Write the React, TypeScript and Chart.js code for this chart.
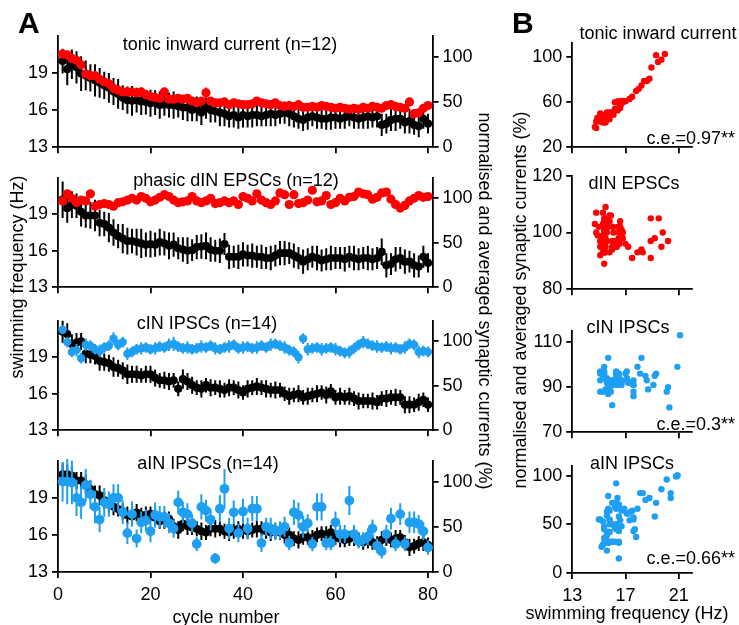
import React, { useEffect, useRef } from 'react';
import { Chart, registerables } from 'chart.js';
Chart.register(...registerables);

const FONT = '"Liberation Sans", Arial, sans-serif';
const RED = '#ff0000';
const BLUE = '#1e9ff2';

// cycle numbers (categories)
const cycles: number[] = Array.from({ length: 80 }, (_, i) => i + 1);

// tonic inward current panel
const freqTonic = [19.96,19.3,19.7,19.45,18.95,18.8,18.6,18.4,18.2,18.0, 17.8,17.5,17.3,17.0,16.8,16.75,16.8,16.7,16.65,16.55, 16.6,16.4,16.45,16.4,16.4,16.3,16.2,16.2,16.0,16.1, 15.8,16.2,16.0,15.9,15.8,15.7,15.5,15.6,15.4,15.6, 15.5,15.6,15.6,15.5,15.6,15.7,15.6,15.7,15.8,15.7, 15.5,15.3,15.2,15.4,15.5,15.4,15.3,15.3,15.4,15.4, 15.3,15.4,15.5,15.4,15.3,15.4,15.5,15.4,15.5,14.8, 14.9,15.2,15.3,15.3,15.0,15.1,14.8,14.7,15.3,14.9];
const freqTonicErr = [1.0,1.3,1.2,1.3,1.4,1.2,1.1,1.3,1.2,1.1, 1.2,1.1,1.2,1.0,1.1,1.2,1.0,1.1,1.0,1.1, 1.0,1.1,0.9,1.0,1.1,0.9,1.0,1.1,0.9,1.0, 1.0,0.9,1.0,0.9,1.1,1.0,0.9,1.0,0.9,1.0, 0.9,1.0,0.9,0.8,0.9,1.0,0.9,0.8,0.9,1.0, 0.9,0.8,0.9,1.0,0.8,0.9,0.8,0.9,1.0,0.9, 0.8,0.9,0.8,0.9,0.8,0.9,1.0,0.8,0.9,0.9, 0.8,0.9,1.0,0.8,0.9,1.0,0.8,0.9,0.8,0.8];
const curTonic = [103,102,98,96,91,81,79,79,75,72, 70,65,63,61,61,61,60,61,58,56, 55,54,61,53,53,54,53,54,51,49, 51,60,51,49,49,50,47,49,48,47, 47,48,51,49,48,47,49,46,45,46, 45,47,44,44,45,44,46,45,44,43, 44,43,42,43,42,44,43,45,44,43, 46,47,45,44,43,50,37,38,43,46];
const curTonicErr = [5,4,3,4,3,3,3,2,3,2, 3,2,3,2,2,3,2,2,3,2, 2,2,4,2,2,2,2,2,2,2, 2,6,2,2,2,2,2,2,2,2, 2,2,3,2,2,2,2,2,2,2, 2,2,2,2,2,2,2,2,2,2, 2,2,2,2,2,2,2,2,2,2, 2,3,2,2,2,4,2,2,2,3];

// phasic dIN EPSCs panel
const freqPhasic = [20.2,19.5,19.8,19.7,19.2,18.9,18.9,18.9,18.3,18.2, 17.9,17.5,17.2,17.0,16.8,16.8,16.7,16.6,16.5,16.55, 16.5,16.7,16.6,16.4,16.5,16.2,16.1,16.0,16.05,16.3, 16.35,16.4,16.1,16.0,16.0,16.55,15.5,15.5,15.5,15.7, 15.6,15.6,15.5,15.5,15.4,15.4,15.6,15.8,15.8,15.8, 15.6,15.4,15.1,15.3,15.5,15.4,15.2,15.3,15.4,15.4, 15.4,15.3,15.5,15.4,15.3,15.4,15.4,15.3,15.4,15.9, 14.8,14.9,15.3,15.4,15.1,15.1,14.8,14.7,15.5,15.0];
const freqPhasicErr = [1.5,1.2,1.1,1.0,1.2,1.0,1.1,1.3,1.1,1.0, 1.2,1.1,1.0,1.2,1.1,1.0,1.1,1.2,1.0,1.1, 1.0,1.1,1.0,1.1,1.0,0.9,1.0,1.1,0.9,1.0, 1.0,1.1,1.0,0.9,1.0,0.9,1.0,0.9,1.0,1.0, 0.9,1.0,0.9,1.0,0.9,1.0,0.9,1.0,1.0,0.9, 1.0,0.9,1.0,0.9,0.9,1.0,0.9,0.9,1.0,0.9, 0.9,1.0,0.9,1.0,0.9,0.9,1.0,0.9,0.9,1.1, 1.0,0.9,1.0,0.9,1.0,0.9,1.0,0.9,0.9,0.8];
const curPhasic = [97,105,100,95,98,97,105,91,93,94, 93,91,95,96,98,100,98,102,100,96, 98,101,104,102,98,95,96,97,102,97, 95,97,100,94,95,97,95,97,93,102, 100,97,105,98,95,93,97,106,104,93, 104,94,95,98,109,96,97,103,93,95, 100,97,101,102,107,105,104,99,101,106, 107,99,93,89,92,97,100,103,101,102];
const curPhasicErr = [3,3,2,2,2,2,3,2,2,2, 2,2,2,2,2,2,2,2,2,2, 2,2,2,2,2,2,2,2,2,2, 2,2,2,2,2,2,2,2,2,2, 2,2,2,2,2,2,2,2,2,2, 2,2,2,2,3,2,2,2,2,2, 2,2,2,2,2,2,2,2,2,2, 2,2,2,3,2,2,2,2,2,2];

// cIN IPSCs panel
const freqCin = [21.1,20.9,20.1,20.2,20.3,19.3,19.2,19.1,18.7,18.6, 18.5,18.2,18.1,17.9,17.6,17.6,17.6,17.5,17.6,17.6, 17.3,17.1,17.1,17.0,17.1,16.4,17.2,17.0,16.7,16.5, 16.4,16.7,16.5,16.5,16.4,16.3,16.5,16.5,16.3,16.1, 16.4,16.5,16.6,16.5,16.4,16.3,16.3,16.3,16.0,15.8, 15.9,16.0,15.7,15.8,15.9,16.0,16.1,15.9,16.2,15.7, 15.8,15.7,15.8,15.6,15.4,15.4,15.4,15.4,15.3,15.6, 15.6,15.7,15.7,15.7,15.1,15.1,15.1,15.3,15.5,15.1];
const freqCinErr = [0.9,0.9,0.8,0.8,0.7,0.8,0.7,0.7,0.8,0.7, 0.7,0.8,0.7,0.7,0.8,0.7,0.7,0.6,0.7,0.7, 0.7,0.6,0.7,0.7,0.6,0.6,0.8,0.7,0.7,0.6, 0.7,0.6,0.7,0.6,0.7,0.6,0.7,0.6,0.7,0.6, 0.7,0.6,0.7,0.6,0.7,0.6,0.7,0.6,0.6,0.7, 0.6,0.7,0.6,0.7,0.6,0.7,0.6,0.7,0.6,0.6, 0.7,0.6,0.7,0.6,0.7,0.6,0.6,0.7,0.6,0.6, 0.7,0.6,0.7,0.6,0.7,0.7,0.6,0.7,0.6,0.6];
const curCin = [113,99,88,90,81,96,95,91,89,93, 95,103,96,99,86,88,91,92,93,91, 92,94,93,96,97,94,92,93,91,92, 94,93,95,92,91,93,94,96,92,93, 94,92,93,95,93,96,97,95,93,90, 88,82,103,91,92,93,91,92,93,91, 89,87,88,92,96,99,97,95,94,93, 94,92,93,91,93,97,96,88,89,88];
const curCinErr = [5,6,6,7,6,7,6,6,7,6, 6,7,6,6,7,6,6,7,6,6, 7,6,6,7,8,6,6,7,6,6, 7,6,6,7,6,6,7,6,6,7, 6,6,7,6,6,7,6,6,7,6, 6,7,6,7,6,6,7,6,6,7, 6,6,7,6,6,7,6,6,7,6, 6,7,6,6,7,6,6,7,6,6];

// aIN IPSCs panel
const freqAin = [20.9,20.9,20.8,20.4,20.4,20.1,19.7,19.3,19.2,18.8, 18.5,18.3,18.1,17.9,17.6,17.5,17.8,17.6,17.6,17.7, 17.4,17.1,17.2,17.3,16.7,16.4,16.9,16.7,16.6,16.5, 16.3,16.2,16.5,16.5,16.5,16.3,16.2,16.3,16.5,16.4, 16.3,16.4,16.5,16.5,16.3,16.2,16.3,16.2,16.0,16.0, 15.7,15.6,15.8,15.8,15.7,16.0,16.1,16.0,16.2,15.8, 15.7,15.6,15.7,15.8,15.6,15.4,15.6,15.4,15.3,15.6, 15.7,15.6,15.7,15.8,15.4,15.0,15.1,15.3,15.4,15.2];
const freqAinErr = [0.9,0.8,0.8,0.7,0.7,0.8,0.7,0.7,0.8,0.7, 0.7,0.7,0.6,0.7,0.7,0.6,0.7,0.6,0.7,0.6, 0.7,0.6,0.7,0.6,0.6,0.7,0.6,0.7,0.6,0.6, 0.7,0.6,0.6,0.7,0.6,0.6,0.7,0.6,0.6,0.7, 0.6,0.6,0.7,0.6,0.6,0.7,0.6,0.6,0.7,0.6, 0.6,0.7,0.6,0.6,0.7,0.6,0.6,0.7,0.6,0.6, 0.7,0.6,0.6,0.7,0.6,0.6,0.7,0.6,0.6,0.7, 0.6,0.6,0.7,0.6,0.6,0.7,0.6,0.6,0.7,0.6];
const curAin = [100,100,99,82,77,96,86,72,58,77, 75,82,82,66,43,64,37,55,57,45, 63,61,61,54,48,77,66,64,54,31, 72,68,58,15,70,92,48,66,43,67, 48,70,70,32,50,48,45,46,50,32, 66,63,50,54,31,72,72,32,32,55, 42,42,79,42,34,36,39,48,29,23, 42,59,31,64,31,55,55,53,45,27];
const curAinErr = [22,25,24,20,18,18,16,18,14,16, 14,15,15,13,12,14,10,12,12,12, 14,12,12,11,10,13,12,12,10,8, 14,12,12,6,15,22,12,13,10,14, 12,14,14,10,10,12,10,10,11,8, 14,14,12,10,8,15,15,8,8,12, 10,10,16,10,8,8,9,10,8,8, 10,12,8,12,8,12,12,10,10,8];

// tick values
const freqTicks = [13, 16, 19];
const curTicks = [0, 50, 100];
const cycleTicks = [0, 20, 40, 60, 80];
const scatterXTicks = [13, 17, 21];

const errorBars = {
  id: 'errorBars',
  beforeDatasetDraw(chart: any, args: any) {
    const ds: any = chart.data.datasets[args.index];
    if (!ds.errors) return;
    const meta = args.meta;
    const ys = chart.scales[meta.yAxisID];
    const ctx = chart.ctx;
    ctx.save();
    ctx.strokeStyle = ds.errColor;
    ctx.lineWidth = ds.errWidth || 2;
    ctx.beginPath();
    meta.data.forEach((el: any, i: number) => {
      const v = ds.data[i].y;
      const e = ds.errors[i];
      if (e === undefined) return;
      ctx.moveTo(el.x, ys.getPixelForValue(v - e));
      ctx.lineTo(el.x, ys.getPixelForValue(v + e));
    });
    ctx.stroke();
    ctx.restore();
  },
};

function axis(position: string, min: number, max: number, tickVals: number[], showLabels: boolean, size: number) {
  const horizontal = position === 'bottom';
  return {
    type: 'linear',
    position,
    min,
    max,
    afterBuildTicks: (s: any) => { s.ticks = tickVals.map((v) => ({ value: v })); },
    afterFit: (s: any) => { if (horizontal) s.height = size; else s.width = size; },
    grid: { drawOnChartArea: false, drawTicks: true, tickLength: 6, color: '#000', lineWidth: 1.8 },
    border: { display: true, color: '#000', width: 1.8 },
    ticks: { display: showLabels, color: '#000', font: { family: FONT, size: 18 }, padding: horizontal ? 6 : 4, autoSkip: false, maxRotation: 0 },
  };
}

type Box = { left: number; top: number; width: number; height: number; config: any };

function leftPanel(freq: number[], freqErr: number[], cur: number[], curErr: number[], color: string, rCur: number, top: number, bottom: number, showX: boolean): Box {
  const pt = 12;
  const hb = showX ? 44 : 12;
  const canvasTop = top - pt;
  const height = bottom - top + pt + hb;
  const width = 490;
  return {
    left: 0, top: canvasTop, width, height,
    config: {
      type: 'scatter',
      data: {
        datasets: [
          { data: cycles.map((c, i) => ({ x: c, y: cur[i] })), yAxisID: 'yR', backgroundColor: color, borderColor: color, pointRadius: rCur, pointBorderWidth: 0, errors: curErr, errColor: color, clip: false },
          { data: cycles.map((c, i) => ({ x: c, y: freq[i] })), yAxisID: 'yL', backgroundColor: '#000', borderColor: '#000', pointRadius: 4.1, pointBorderWidth: 0, errors: freqErr, errColor: '#000', clip: false },
        ],
      },
      options: {
        animation: false, responsive: false, events: [],
        layout: { padding: { top: pt, left: 0, right: 0, bottom: 0 }, autoPadding: false },
        plugins: { legend: { display: false }, tooltip: { enabled: false } },
        scales: {
          x: axis('bottom', 0, 81, cycleTicks, showX, hb),
          yL: axis('left', 13, 22, freqTicks, true, 58),
          yR: axis('right', 0, 123, curTicks, true, width - 432.6),
        },
      },
      plugins: [errorBars],
    },
  };
}

function rightPanel(freq: number[], cur: number[], color: string, yMin: number, yMax: number, yTicks: number[], top: number, bottom: number, showX: boolean): Box {
  const pt = 12;
  const hb = showX ? 40 : 12;
  const left = 510;
  const width = 190;
  return {
    left, top: top - pt, width, height: bottom - top + pt + hb,
    config: {
      type: 'scatter',
      data: {
        datasets: [
          { data: freq.map((f, i) => ({ x: f, y: cur[i] })), backgroundColor: color, borderColor: color, pointRadius: 3.2, pointBorderWidth: 0, clip: false },
        ],
      },
      options: {
        animation: false, responsive: false, events: [],
        layout: { padding: { top: pt, left: 0, right: 8, bottom: 0 }, autoPadding: false },
        plugins: { legend: { display: false }, tooltip: { enabled: false } },
        scales: {
          x: axis('bottom', 13, 22, scatterXTicks, showX, hb),
          y: axis('left', yMin, yMax, yTicks, true, 62.3),
        },
      },
    },
  };
}

function ChartCanvas({ box }: { box: Box }) {
  const ref = useRef<HTMLCanvasElement>(null);
  useEffect(() => {
    const chart = new Chart(ref.current as HTMLCanvasElement, box.config);
    return () => chart.destroy();
  }, []);
  return (
    <canvas ref={ref} width={box.width} height={box.height}
      style={{ position: 'absolute', left: box.left, top: box.top, width: box.width, height: box.height }} />
  );
}

function Label({ x, y, text, size = 18, bold = false, rotate = 0, align = 'center' }: any) {
  const tx = align === 'center' ? '-50%' : align === 'right' ? '-100%' : '0%';
  return (
    <div style={{
      position: 'absolute', left: x, top: y, whiteSpace: 'nowrap', lineHeight: 1,
      fontFamily: FONT, fontSize: size, fontWeight: bold ? 'bold' : 'normal', color: '#000',
      transform: `translate(${tx}, -50%) rotate(${rotate}deg)`,
    }}>{text}</div>
  );
}

export default function App() {
  const boxes: Box[] = [
    leftPanel(freqTonic, freqTonicErr, curTonic, curTonicErr, RED, 4.6, 33, 150, false),
    leftPanel(freqPhasic, freqPhasicErr, curPhasic, curPhasicErr, RED, 4.6, 175, 290, false),
    leftPanel(freqCin, freqCinErr, curCin, curCinErr, BLUE, 4.2, 318, 433, false),
    leftPanel(freqAin, freqAinErr, curAin, curAinErr, BLUE, 4.9, 458, 572, true),
    rightPanel(freqTonic, curTonic, RED, 20, 113, [20, 60, 100], 40, 150, false),
    rightPanel(freqPhasic, curPhasic, RED, 80, 120, [80, 100, 120], 173, 292, false),
    rightPanel(freqCin, curCin, BLUE, 70, 115, [70, 90, 110], 328, 435, false),
    rightPanel(freqAin, curAin, BLUE, 0, 110, [0, 50, 100], 463, 573, true),
  ];
  return (
    <div style={{ position: 'absolute', left: 0, top: 0, width: 739, height: 625, background: '#fff', overflow: 'hidden' }}>
      {boxes.map((b, i) => <ChartCanvas key={i} box={b} />)}
      <Label x={18} y={23} text="A" size={30} bold align="left" />
      <Label x={512} y={23} text="B" size={30} bold align="left" />
      <Label x={230} y={44} text="tonic inward current (n=12)" />
      <Label x={236} y={180} text="phasic dIN EPSCs (n=12)" />
      <Label x={207} y={323} text="cIN IPSCs (n=14)" />
      <Label x={208} y={463} text="aIN IPSCs (n=14)" />
      <Label x={226} y={617} text="cycle number" />
      <div style={{ position: 'absolute', left: 17, top: 277, transform: 'translate(-50%, -50%) rotate(-90deg)', whiteSpace: 'nowrap', lineHeight: 1, fontFamily: FONT, fontSize: 18 }}>swimming frequency (Hz)</div>
      <div style={{ position: 'absolute', left: 485, top: 301, transform: 'translate(-50%, -50%) rotate(90deg)', whiteSpace: 'nowrap', lineHeight: 1, fontFamily: FONT, fontSize: 18 }}>normalised and averaged synaptic currents (%)</div>
      <div style={{ position: 'absolute', left: 520, top: 300, transform: 'translate(-50%, -50%) rotate(-90deg)', whiteSpace: 'nowrap', lineHeight: 1, fontFamily: FONT, fontSize: 18 }}>normalised and averaged synaptic currents (%)</div>
      <Label x={658} y={33} text="tonic inward current" />
      <Label x={634} y={183} text="dIN EPSCs" />
      <Label x={628} y={327} text="cIN IPSCs" />
      <Label x={632} y={463} text="aIN IPSCs" />
      <Label x={735} y={138} text="c.e.=0.97**" align="right" />
      <Label x={735} y={424} text="c.e.=0.3**" align="right" />
      <Label x={735} y={558} text="c.e.=0.66**" align="right" />
      <Label x={627} y={613} text="swimming frequency (Hz)" />
    </div>
  );
}
